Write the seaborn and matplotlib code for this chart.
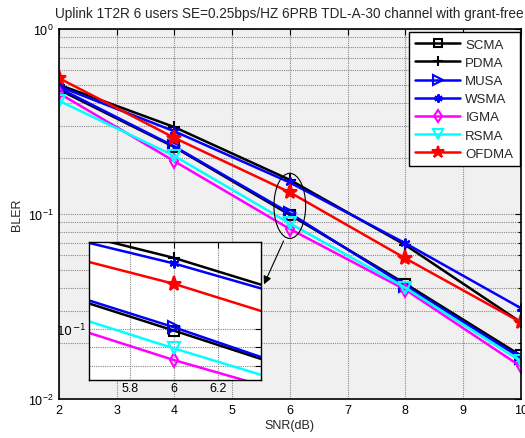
import numpy as np
import pandas as pd
import matplotlib
matplotlib.use("Agg")
import matplotlib.pyplot as plt
import seaborn as sns
from matplotlib.patches import Ellipse
from matplotlib.ticker import LogLocator, NullFormatter, FixedLocator, FixedFormatter

snr = [2, 4, 6, 8, 10]
scma = [0.47, 0.230, 0.099, 0.042, 0.0172]
pdma = [0.50, 0.295, 0.153, 0.068, 0.026]
musa = [0.48, 0.232, 0.101, 0.041, 0.0167]
wsma = [0.49, 0.280, 0.148, 0.0695, 0.031]
igma = [0.45, 0.193, 0.083, 0.039, 0.0150]
rsma = [0.41, 0.206, 0.089, 0.040, 0.0160]
ofdma = [0.543, 0.258, 0.131, 0.0576, 0.026]

names = ["SCMA", "PDMA", "MUSA", "WSMA", "IGMA", "RSMA", "OFDMA"]
values = [scma, pdma, musa, wsma, igma, rsma, ofdma]
colors = ["black", "black", "blue", "blue", "magenta", "cyan", "red"]
markers = ["s", "+", ">", (6, 2, 0), "d", "v", "*"]
filled = [False, True, False, True, False, False, True]
msizes = [7, 8, 8, 7, 7, 8, 11]

sns.set_style("white")
plt.rcParams["font.family"] = ["Liberation Sans", "DejaVu Sans"]

fig = plt.figure(figsize=(5.25, 4.39), dpi=100)
ax = fig.add_axes([0.112, 0.0888, 0.880, 0.8429])
ax.set_facecolor("#f0f0f0")

df = pd.DataFrame({"snr": snr * len(names),
                   "bler": sum(values, []),
                   "scheme": sum([[n] * len(snr) for n in names], [])})


def draw(axis, with_label=True):
    for n, c, m, f, ms in zip(names, colors, markers, filled, msizes):
        sub = df[df.scheme == n]
        sns.lineplot(data=sub, x="snr", y="bler", ax=axis, color=c, lw=1.8,
                     marker=m, markersize=ms,
                     markerfacecolor=(c if f else "none"),
                     markeredgecolor=c, markeredgewidth=1.5,
                     label=(n if with_label else None), legend=False)


draw(ax)
ax.set_yscale("log")
ax.set_xlim(2, 10)
ax.set_ylim(1e-2, 1)
ax.set_xticks(range(2, 11))
ax.yaxis.set_major_locator(LogLocator(base=10, numticks=5))
ax.yaxis.set_minor_locator(LogLocator(base=10, subs=np.arange(2, 10), numticks=20))
ax.yaxis.set_minor_formatter(NullFormatter())
ax.grid(True, which="major", color="#888888", ls=(0, (1, 1)), lw=0.8)
ax.grid(True, which="minor", axis="y", color="#888888", ls=(0, (1, 1)), lw=0.8)
ax.tick_params(direction="in", which="both", top=True, right=True, labelsize=9,
               length=4, width=0.8, colors="black")
ax.tick_params(which="minor", length=2.5)
for s in ax.spines.values():
    s.set_color("black")
    s.set_linewidth(1.2)
ax.set_xlabel("SNR(dB)", fontsize=9, labelpad=2)
ax.set_ylabel("BLER", fontsize=9, labelpad=4)
fig.text(0.551, 0.968, "Uplink 1T2R 6 users SE=0.25bps/HZ 6PRB TDL-A-30 channel with grant-free",
         ha="center", va="center", fontsize=9.8)

leg = ax.legend(loc="upper right", bbox_to_anchor=(0.998, 0.992), borderaxespad=0,
                fontsize=9.5, handlelength=3.4, frameon=True, fancybox=False,
                framealpha=1, edgecolor="black", labelspacing=0.45,
                borderpad=0.5, handletextpad=0.4, markerscale=0.85)
leg.get_frame().set_linewidth(1.0)

# ellipse and arrow
ax.add_patch(Ellipse((0.5, 0.522), 0.0686, 0.176, transform=ax.transAxes,
                     fill=False, edgecolor="black", lw=0.8, zorder=5))
ax.annotate("", xy=(0.4416, 0.303), xytext=(0.489, 0.434),
            xycoords="axes fraction", textcoords="axes fraction",
            arrowprops=dict(arrowstyle="-|>", color="black", lw=0.8,
                            mutation_scale=12))

# inset
axi = fig.add_axes([0.170, 0.1328, 0.3266, 0.313])
axi.set_facecolor("white")
draw(axi, with_label=False)
axi.set_yscale("log")
axi.set_xlim(5.615, 6.394)
axi.set_ylim(0.0738, 0.168)
axi.xaxis.set_major_locator(FixedLocator([5.8, 6.0, 6.2]))
axi.xaxis.set_major_formatter(FixedFormatter(["5.8", "6", "6.2"]))
axi.yaxis.set_major_locator(FixedLocator([0.1]))
axi.yaxis.set_major_formatter(FixedFormatter([r"$10^{-1}$"]))
axi.yaxis.set_minor_locator(FixedLocator([0.08, 0.09]))
axi.yaxis.set_minor_formatter(NullFormatter())
axi.grid(True, which="major", color="#888888", ls=(0, (1, 1)), lw=0.8)
axi.grid(True, which="minor", axis="y", color="#888888", ls=(0, (1, 1)), lw=0.8)
axi.tick_params(direction="in", which="both", top=True, right=True, labelsize=9,
                length=4, width=0.8, colors="black", pad=2)
axi.set_xlabel("")
axi.set_ylabel("")
for s in axi.spines.values():
    s.set_color("black")
    s.set_linewidth(1.0)

fig.savefig("out.png", dpi=100)
